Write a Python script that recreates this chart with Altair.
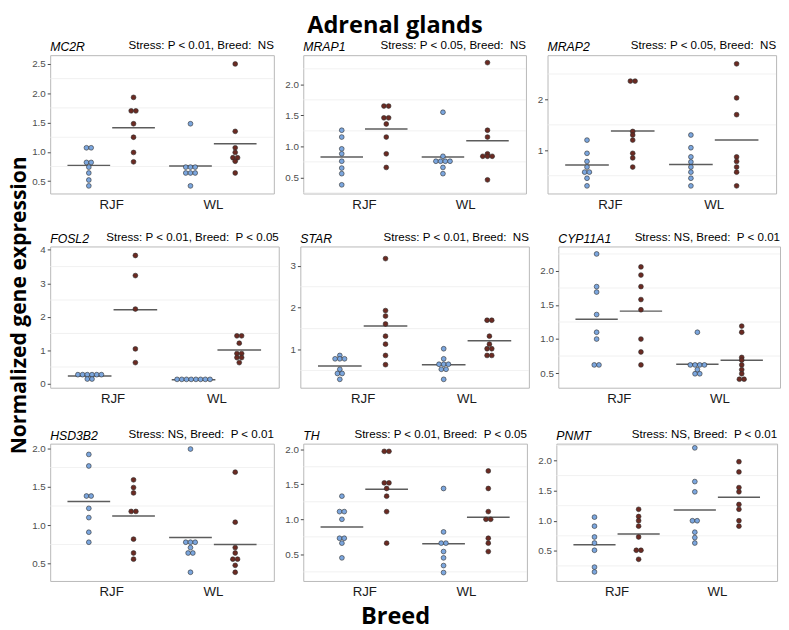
import altair as alt
import pandas as pd

# ---------------- data ----------------
genes = ["MC2R", "MRAP1", "MRAP2", "FOSL2", "STAR", "CYP11A1", "HSD3B2", "TH", "PNMT"]
stats = [
    "Stress: P < 0.01, Breed:  NS",
    "Stress: P < 0.05, Breed:  NS",
    "Stress: P < 0.05, Breed:  NS",
    "Stress: P < 0.01, Breed:  P < 0.05",
    "Stress: P < 0.01, Breed:  NS",
    "Stress: NS, Breed:  P < 0.01",
    "Stress: NS, Breed:  P < 0.01",
    "Stress: P < 0.01, Breed:  P < 0.05",
    "Stress: NS, Breed:  P < 0.01",
]
breeds = ["RJF", "WL"]
groups = ["Control", "Stress"]

y_ticks = [
    [0.5, 1.0, 1.5, 2.0, 2.5],
    [0.5, 1.0, 1.5, 2.0],
    [1, 2],
    [0, 1, 2, 3, 4],
    [1, 2, 3],
    [0.5, 1.0, 1.5, 2.0],
    [0.5, 1.0, 1.5, 2.0],
    [0.5, 1.0, 1.5, 2.0],
    [0.5, 1.0, 1.5, 2.0],
]
y_formats = [".1f", ".1f", "d", "d", "d", ".1f", ".1f", ".1f", ".1f"]
y_domains = [
    [0.29, 2.65], [0.24, 2.47], [0.15, 2.87],
    [-0.12, 4.1], [0.09, 3.46], [0.285, 2.36],
    [0.277, 2.06], [0.12, 2.08], [0.0, 2.28],
]

rjf_control = [
    [1.07, 1.07, 0.82, 0.82, 0.74, 0.64, 0.52, 0.42],
    [1.26, 1.15, 0.96, 0.88, 0.76, 0.65, 0.56, 0.38],
    [1.20, 0.94, 0.78, 0.67, 0.57, 0.57, 0.45, 0.30],
    [0.27, 0.27, 0.27, 0.27, 0.27, 0.27, 0.14, 0.14],
    [0.86, 0.78, 0.78, 0.78, 0.53, 0.43, 0.43, 0.29],
    [2.25, 1.77, 1.69, 1.36, 1.10, 1.00, 0.62, 0.62],
    [1.92, 1.77, 1.38, 1.38, 1.22, 1.10, 0.91, 0.78],
    [1.33, 1.11, 1.11, 1.00, 0.73, 0.73, 0.66, 0.45],
    [1.06, 0.91, 0.73, 0.63, 0.51, 0.23, 0.15],
]
rjf_stress = [
    [1.93, 1.70, 1.70, 1.48, 1.25, 0.99, 0.83],
    [1.65, 1.65, 1.46, 1.46, 1.36, 1.15, 0.88, 0.66],
    [2.36, 2.36, 1.37, 1.30, 1.20, 0.94, 0.85, 0.67],
    [3.83, 3.23, 2.23, 1.04, 0.63],
    [3.17, 1.93, 1.80, 1.61, 1.32, 1.13, 0.86, 0.64],
    [2.06, 1.94, 1.77, 1.58, 1.43, 1.00, 0.81, 0.62],
    [1.59, 1.49, 1.42, 1.18, 1.18, 0.82, 0.64, 0.56],
    [1.97, 1.97, 1.52, 1.52, 1.44, 1.33, 1.11, 0.66],
    [1.19, 1.07, 1.00, 0.91, 0.73, 0.51, 0.51, 0.36],
]
wl_control = [
    [1.48, 0.74, 0.74, 0.74, 0.64, 0.64, 0.64, 0.42],
    [1.55, 0.84, 0.76, 0.76, 0.76, 0.76, 0.66, 0.56],
    [1.30, 1.05, 0.87, 0.77, 0.67, 0.57, 0.45, 0.30],
    [0.13, 0.13, 0.13, 0.13, 0.13, 0.13, 0.13, 0.13],
    [1.02, 0.78, 0.65, 0.65, 0.65, 0.53, 0.53, 0.29],
    [1.10, 0.62, 0.62, 0.62, 0.62, 0.55, 0.49, 0.49],
    [1.99, 0.78, 0.78, 0.78, 0.71, 0.64, 0.64, 0.39],
    [1.44, 0.82, 0.66, 0.66, 0.54, 0.45, 0.34, 0.24],
    [2.21, 1.65, 1.48, 1.00, 1.00, 0.81, 0.72, 0.63],
]
wl_stress = [
    [2.50, 1.35, 1.07, 0.99, 0.90, 0.90, 0.84, 0.64],
    [2.35, 1.26, 1.15, 0.88, 0.84, 0.84, 0.84, 0.46],
    [2.70, 2.03, 1.70, 0.87, 0.78, 0.67, 0.57, 0.30],
    [1.43, 1.43, 1.21, 0.90, 0.90, 0.78, 0.78, 0.63],
    [1.70, 1.70, 1.32, 1.13, 1.02, 1.02, 0.86, 0.86],
    [1.19, 1.10, 0.73, 0.69, 0.62, 0.55, 0.49, 0.41, 0.41],
    [1.69, 1.04, 0.71, 0.64, 0.56, 0.56, 0.48, 0.39],
    [1.69, 1.44, 1.11, 1.00, 1.00, 0.73, 0.66, 0.54],
    [1.98, 1.81, 1.55, 1.48, 1.27, 1.19, 1.00, 0.91],
]
# group means (horizontal bars): RJF control, RJF stress, WL control, WL stress
means = [
    [0.77, 1.41, 0.76, 1.14],
    [0.83, 1.28, 0.83, 1.09],
    [0.71, 1.38, 0.72, 1.20],
    [0.23, 2.21, 0.12, 1.01],
    [0.61, 1.56, 0.64, 1.21],
    [1.29, 1.41, 0.63, 0.69],
    [1.31, 1.12, 0.84, 0.75],
    [0.89, 1.43, 0.65, 1.03],
    [0.60, 0.78, 1.18, 1.39],
]

# ---------------- layout / style ----------------
panel_w = [228, 227, 233, 233, 233, 226, 228, 228, 225]
row_h = [141, 144, 140]
x_dom = [0.4, 2.6]
centers = [0.78, 1.22, 1.78, 2.22]
half_bar = 0.21
dot_px = 4.8
colors = ["#7BA6DE", "#6B2A22"]
LABEL_FONT = "Liberation Sans"
BOLD_FONT = "Open Sans"


def dodge(values, center, step):
    out = []
    counts = {}
    for v in values:
        counts[round(v, 3)] = counts.get(round(v, 3), 0) + 1
    seen = {}
    for v in values:
        k = round(v, 3)
        n = counts[k]
        i = seen.get(k, 0)
        seen[k] = i + 1
        out.append(center + (i - (n - 1) / 2) * step)
    return out


def panel(i):
    W = panel_w[i]
    H = row_h[i // 3]
    step = dot_px * (x_dom[1] - x_dom[0]) / W
    series = [rjf_control[i], rjf_stress[i], wl_control[i], wl_stress[i]]
    rows = []
    for j, vals in enumerate(series):
        xs = dodge(vals, centers[j], step)
        for xv, yv in zip(xs, vals):
            rows.append({"x": xv, "y": yv, "g": groups[j % 2]})
    pts = pd.DataFrame(rows)
    bars = pd.DataFrame({
        "x1": [c - half_bar for c in centers],
        "x2": [c + half_bar for c in centers],
        "m": means[i],
    })
    t = y_ticks[i]
    st = t[1] - t[0]
    minor = [v - st / 2 for v in t] + [t[-1] + st / 2]
    minor = [v for v in minor if y_domains[i][0] < v < y_domains[i][1]]
    grid = pd.DataFrame({"v": minor})

    xs = alt.Scale(domain=x_dom, nice=False, zero=False)
    ys = alt.Scale(domain=y_domains[i], nice=False, zero=False)
    label_expr = "datum.value == 1 ? '%s' : '%s'" % (breeds[0], breeds[1])
    x_axis = alt.Axis(
        values=[1, 2], labelExpr=label_expr, grid=False, ticks=False,
        domain=False, title=None, labelFontSize=13.5, labelColor="#1a1a1a",
        labelFont=LABEL_FONT, labelPadding=4)
    y_axis = alt.Axis(
        values=t, format=y_formats[i], grid=False, domain=False, title=None,
        tickSize=3, tickColor="#444444", labelFontSize=10, labelColor="#4d4d4d",
        labelFont=LABEL_FONT, labelPadding=2)

    g_layer = alt.Chart(grid).mark_rule(color="#ededed", strokeWidth=0.8).encode(
        y=alt.Y("v:Q", scale=ys, axis=y_axis)
    )
    bar_layer = alt.Chart(bars).mark_rule(color="#5c5c5c", strokeWidth=1.5).encode(
        x=alt.X("x1:Q", scale=xs, axis=x_axis),
        x2="x2:Q",
        y=alt.Y("m:Q", scale=ys, axis=y_axis),
    )
    pt_layer = alt.Chart(pts).mark_circle(
        size=24, opacity=1, stroke="#2a2a2a", strokeWidth=0.6
    ).encode(
        x=alt.X("x:Q", scale=xs, axis=x_axis),
        y=alt.Y("y:Q", scale=ys, axis=y_axis),
        color=alt.Color("g:N", scale=alt.Scale(domain=groups, range=colors), legend=None),
    )
    gene_layer = alt.Chart(pd.DataFrame({"t": [genes[i]]})).mark_text(
        align="left", baseline="alphabetic", fontStyle="italic", fontSize=12.5,
        font=LABEL_FONT, color="black"
    ).encode(text="t:N", x=alt.value(0), y=alt.value(-4))
    stat_layer = alt.Chart(pd.DataFrame({"t": [stats[i].replace("  ", "\u00a0 ")]})).mark_text(
        align="right", baseline="alphabetic", fontSize=11.8, font=LABEL_FONT, color="black"
    ).encode(text="t:N", x=alt.value(W), y=alt.value(-6))
    return alt.layer(g_layer, bar_layer, pt_layer, gene_layer, stat_layer).properties(
        width=W, height=H
    )


panels = [panel(i) for i in range(9)]
rows_c = [alt.hconcat(*panels[r * 3:(r + 1) * 3], spacing=9) for r in range(3)]

noframe = alt.ViewBackground(strokeWidth=0)
breed_chart = alt.Chart(pd.DataFrame({"t": ["Breed"]})).mark_text(
    fontSize=24, fontWeight="bold", font=BOLD_FONT, color="black", baseline="middle"
).encode(text="t:N", x=alt.value(352), y=alt.value(19)).properties(
    width=700, height=32, view=noframe
)
top_rows = alt.vconcat(rows_c[0], rows_c[1], spacing=20)
all_rows = alt.vconcat(top_rows, rows_c[2], spacing=23)
inner = alt.vconcat(all_rows, breed_chart, spacing=0)

ylab_chart = alt.Chart(pd.DataFrame({"t": ["Normalized gene expression"]})).mark_text(
    fontSize=21.5, fontWeight="bold", font=BOLD_FONT, color="black", angle=270,
    baseline="middle"
).encode(text="t:N", x=alt.value(11), y=alt.value(255)).properties(
    width=20, height=540, view=noframe
)

chart = alt.hconcat(ylab_chart, inner, spacing=0).properties(
    title=alt.TitleParams("Adrenal glands", fontSize=24, font=BOLD_FONT,
                          fontWeight="bold", anchor="middle", color="black", offset=2),
    padding=0,
    background="white",
).configure_view(stroke="#b8b8b8", strokeWidth=1)

chart.save("out.html", embed_options={"renderer": "svg", "actions": False})
